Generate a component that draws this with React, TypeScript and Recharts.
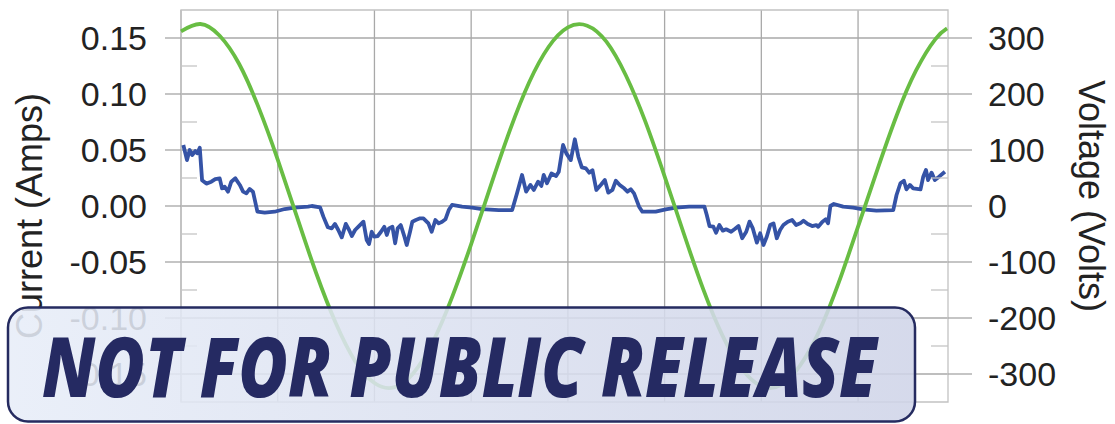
import React from 'react';
import { LineChart, Line, XAxis, YAxis, CartesianGrid, ReferenceArea } from 'recharts';

// time in ms
const currentT = [
  0.12, 0.31, 0.45, 0.58, 0.74, 0.84, 0.97, 1.09, 1.31, 1.57,
  1.77, 2.0, 2.12, 2.26, 2.43, 2.6, 2.81, 3.04, 3.21, 3.38,
  3.55, 3.72, 3.95, 4.33, 4.84, 5.36, 5.88, 6.57, 6.76, 7.19,
  7.36, 7.59, 7.79, 7.96, 8.13, 8.31, 8.52, 8.69, 8.83, 9.0,
  9.2, 9.43, 9.6, 9.72, 9.86, 9.99, 10.17, 10.34, 10.51, 10.64,
  10.75, 10.93, 11.07, 11.2, 11.36, 11.55, 11.67, 11.84, 11.96, 12.14,
  12.36, 12.53, 12.79, 12.96, 13.15, 13.32, 13.5, 13.67, 13.84, 14.01,
  14.53, 15.05, 15.56, 16.43, 17.12, 17.37, 17.63, 17.84, 18.06, 18.24,
  18.46, 18.63, 18.75, 18.92, 19.15, 19.39, 19.53, 19.75, 19.92, 20.15,
  20.36, 20.54, 20.72, 20.93, 21.1, 21.27, 21.47, 21.7, 21.91, 22.09,
  22.3, 22.48, 22.68, 22.91, 23.08, 23.25, 23.42, 23.68, 23.85, 24.54,
  25.06, 25.58, 26.27, 26.46, 27.06, 27.18, 27.32, 27.52, 27.66, 27.83,
  28.01, 28.18, 28.44, 28.61, 28.82, 29.01, 29.22, 29.39, 29.56, 29.77,
  29.94, 30.11, 30.28, 30.46, 30.63, 30.8, 30.97, 31.14, 31.37, 31.59,
  31.8, 32.01, 32.18, 32.4, 32.63, 32.84, 32.94, 33.16, 33.33, 33.45,
  33.57, 33.75, 34.23, 34.75, 35.26, 35.95, 36.82, 36.99, 37.19, 37.37,
  37.5, 37.68, 37.85, 38.23, 38.37, 38.51, 38.62, 38.8, 38.97, 39.19,
  39.49,
];

const currentA = [
  0.0545, 0.041, 0.05, 0.0455, 0.049, 0.047, 0.052, 0.023, 0.02, 0.0217,
  0.024, 0.0247, 0.0158, 0.0172, 0.0128, 0.0217, 0.0247, 0.0188, 0.0128, 0.0113,
  0.0152, 0.0128, -0.0051, -0.006, -0.0051, -0.0027, -0.0015, -0.0006, 0.0, -0.0012,
  -0.0095, -0.019, -0.02, -0.016, -0.0214, -0.028, -0.016, -0.0214, -0.0268, -0.0214,
  -0.0179, -0.014, -0.0304, -0.034, -0.023, -0.0274, -0.0268, -0.023, -0.0185, -0.0259,
  -0.02, -0.0185, -0.0333, -0.02, -0.017, -0.0274, -0.0348, -0.023, -0.014, -0.0125,
  -0.011, -0.011, -0.0155, -0.023, -0.0125, -0.0155, -0.014, -0.0119, -0.0036, 0.0009,
  -0.0006, -0.0015, -0.0027, -0.0036, -0.0036, 0.0113, 0.0277, 0.0128, 0.0188, 0.0143,
  0.0217, 0.0179, 0.0277, 0.0203, 0.029, 0.0268, 0.0306, 0.0545, 0.047, 0.041,
  0.0596, 0.044, 0.0345, 0.0336, 0.0298, 0.032, 0.0143, 0.0188, 0.0232, 0.0119,
  0.0143, 0.0226, 0.0188, 0.0158, 0.0128, 0.0149, 0.0113, -0.0006, -0.0051, -0.0051,
  -0.003, -0.0015, -0.0006, -0.0006, -0.0006, -0.008, -0.0179, -0.0185, -0.0238, -0.017,
  -0.022, -0.0208, -0.023, -0.0208, -0.0179, -0.0288, -0.023, -0.014, -0.02, -0.0327,
  -0.0244, -0.0348, -0.0274, -0.017, -0.0155, -0.0288, -0.0214, -0.017, -0.014, -0.0125,
  -0.017, -0.0155, -0.0131, -0.016, -0.0179, -0.017, -0.0185, -0.014, -0.0119, -0.0155,
  0.0, 0.0018, -0.0006, -0.0015, -0.003, -0.0042, -0.0036, 0.0098, 0.0203, 0.0226,
  0.0149, 0.0188, 0.0158, 0.0149, 0.0262, 0.0322, 0.0232, 0.0298, 0.0232, 0.0262,
  0.0306,
];

const voltageT = [
  0, 1, 2, 3, 4, 5, 6, 7, 8, 9, 10, 11, 12, 13, 14, 15, 16, 17, 18, 19,
  20, 21, 22, 23, 24, 25, 26, 27, 28, 29, 30, 31, 32, 33, 34, 35, 36, 37, 38, 39, 39.6,
];
const voltageV = [
  312, 325, 304, 254, 177, 83, -20, -121, -209, -277,
  -316, -324, -299, -244, -164, -68, 35, 135, 221, 284,
  319, 322, 293, 233, 151, 53, -50, -149, -232, -291,
  -322, -320, -285, -223, -137, -37, 65, 162, 242, 298,
  317,
];

const ampTicks = [-0.15, -0.125, -0.1, -0.075, -0.05, -0.025, 0, 0.025, 0.05, 0.075, 0.1, 0.125, 0.15];
const ampGrid = [-0.15, -0.1, -0.05, 0, 0.05, 0.1, 0.15];
const voltTicks = [-300, -250, -200, -150, -100, -50, 0, 50, 100, 150, 200, 250, 300];
const timeGrid = [0, 5, 10, 15, 20, 25, 30, 35];

const currentData = currentT.map((t, k) => ({ t, i: currentA[k] }));
const voltageData = voltageT.map((t, k) => ({ t, v: voltageV[k] }));

const FONT = "'Liberation Sans', Arial, sans-serif";
const INK = '#222222';

const LeftTick = (props: any) => {
  const { x, y, payload } = props;
  const edge = x + 18 + 16;
  const val = payload.value;
  const major = Math.abs(Math.round(val * 1000)) % 50 === 0;
  if (!major) {
    return <line x1={edge} x2={edge + 16} y1={y} y2={y} stroke="#c4c4c4" strokeWidth={1.3} />;
  }
  return (
    <g>
      <line x1={edge - 16} x2={edge} y1={y} y2={y} stroke="#a6a6a6" strokeWidth={1.3} />
      <text x={x} y={y} dy="0.36em" textAnchor="end" fontSize={34} fontFamily={FONT} fill={INK}>
        {val.toFixed(2)}
      </text>
    </g>
  );
};

const RightTick = (props: any) => {
  const { x, y, payload } = props;
  const edge = x - 16 - 24;
  const val = payload.value;
  const major = val % 100 === 0;
  if (!major) {
    return <line x1={edge - 17} x2={edge} y1={y} y2={y} stroke="#c4c4c4" strokeWidth={1.3} />;
  }
  return (
    <g>
      <line x1={edge} x2={edge + 24} y1={y} y2={y} stroke="#a6a6a6" strokeWidth={1.3} />
      <text x={x} y={y} dy="0.36em" textAnchor="start" fontSize={34} fontFamily={FONT} fill={INK}>
        {String(val)}
      </text>
    </g>
  );
};

const leftLabel = (props: any) => {
  const vb = props.viewBox;
  const cx = vb.x + 42;
  const cy = vb.y + vb.height / 2 + 10;
  return (
    <text transform={`translate(${cx},${cy}) rotate(-90)`} textAnchor="middle" fontSize={36} fontFamily={FONT} fill={INK}>
      Current (Amps)
    </text>
  );
};

const rightLabel = (props: any) => {
  const vb = props.viewBox;
  const cx = vb.x + 131;
  const cy = vb.y + vb.height / 2 - 10;
  return (
    <text transform={`translate(${cx},${cy}) rotate(90)`} textAnchor="middle" fontSize={36} fontFamily={FONT} fill={INK}>
      Voltage (Volts)
    </text>
  );
};

export default function App() {
  return (
    <div style={{ position: 'absolute', left: 0, top: 0, width: 1115, height: 424, background: '#fff' }}>
      <LineChart width={1115} height={424} margin={{ top: 10, right: 0, bottom: 22, left: 0 }}>
        <CartesianGrid
          xAxisId="t"
          yAxisId="i"
          horizontalValues={ampGrid}
          verticalValues={timeGrid}
          stroke="#a8a8a8"
          strokeWidth={1.3}
        />
        <ReferenceArea
          xAxisId="t"
          yAxisId="i"
          x1={0}
          x2={39.65}
          y1={-0.175}
          y2={0.175}
          fill="none"
          stroke="#c2c2c2"
          strokeWidth={1.3}
        />
        <XAxis xAxisId="t" dataKey="t" type="number" domain={[0, 39.65]} hide />
        <YAxis
          yAxisId="i"
          orientation="left"
          width={181}
          type="number"
          domain={[-0.175, 0.175]}
          ticks={ampTicks}
          interval={0}
          tickSize={16}
          tickMargin={18}
          tickLine={false}
          axisLine={false}
          tick={LeftTick}
          label={{ content: leftLabel }}
        />
        <YAxis
          yAxisId="v"
          orientation="right"
          width={167}
          type="number"
          domain={[-350, 350]}
          ticks={voltTicks}
          interval={0}
          tickSize={24}
          tickMargin={16}
          tickLine={false}
          axisLine={false}
          tick={RightTick}
          label={{ content: rightLabel }}
        />
        <Line
          xAxisId="t"
          yAxisId="i"
          data={currentData}
          dataKey="i"
          type="linear"
          stroke="#3553a6"
          strokeWidth={3.8}
          strokeLinejoin="round"
          dot={false}
          isAnimationActive={false}
        />
        <Line
          xAxisId="t"
          yAxisId="v"
          data={voltageData}
          dataKey="v"
          type="natural"
          stroke="#68bd43"
          strokeWidth={3.8}
          dot={false}
          isAnimationActive={false}
        />
      </LineChart>
      <svg
        width={1115}
        height={424}
        style={{ position: 'absolute', left: 0, top: 0, pointerEvents: 'none' }}
      >
        <defs>
          <linearGradient id="stamp" x1="0" x2="1" y1="0" y2="0">
            <stop offset="0" stopColor="#e7edf8" />
            <stop offset="1" stopColor="#cfd4e8" />
          </linearGradient>
        </defs>
        <rect
          x={8}
          y={307.5}
          width={907}
          height={114}
          rx={20}
          fill="url(#stamp)"
          fillOpacity={0.87}
          stroke="#252b60"
          strokeWidth={2.5}
        />
        <text
          x={42}
          y={397}
          fontFamily="'Open Sans', 'Noto Sans', sans-serif"
          fontWeight={800}
          fontStyle="italic"
          fontSize={84}
          textLength={835}
          lengthAdjust="spacingAndGlyphs"
          fill="#252a62"
        >
          NOT FOR PUBLIC RELEASE
        </text>
      </svg>
    </div>
  );
}
